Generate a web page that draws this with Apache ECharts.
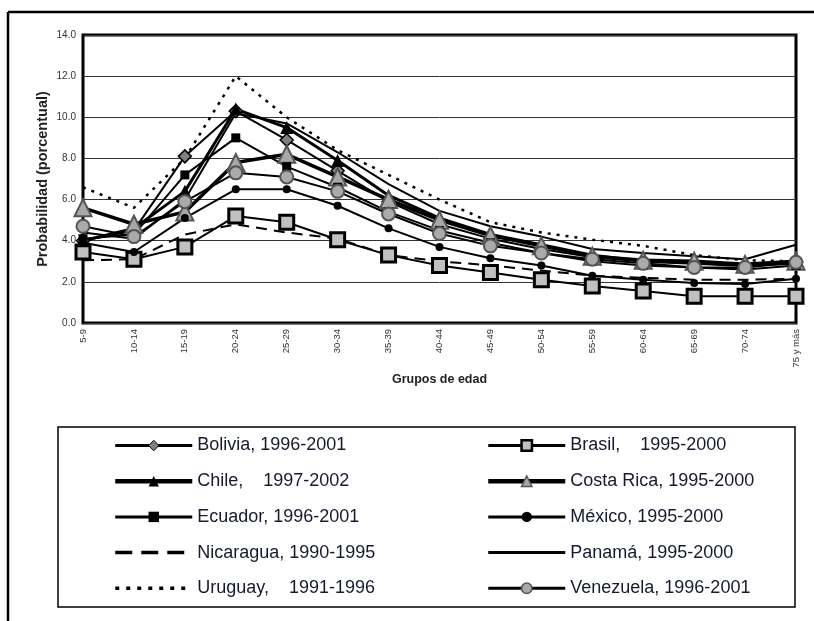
<!DOCTYPE html>
<html>
<head>
<meta charset="utf-8">
<script src="https://cdn.jsdelivr.net/npm/echarts@6/dist/echarts.min.js"></script>
<style>html,body{margin:0;padding:0;background:#fff;}#c{width:814px;height:621px;}</style>
</head>
<body>
<div id="c"></div>
<script>
var categories = ['5-9','10-14','15-19','20-24','25-29','30-34','35-39','40-44','45-49','50-54','55-59','60-64','65-69','70-74','75 y más'];
var yTicks = [0, 2, 4, 6, 8, 10, 12, 14];
var bolivia    = [4.0, 4.5, 8.1, 10.3, 8.9, 7.4, 5.9, 4.8, 4.1, 3.6, 3.2, 3.0, 2.9, 2.8, 3.0];
var brasil     = [3.45, 3.1, 3.7, 5.2, 4.9, 4.05, 3.3, 2.8, 2.45, 2.1, 1.8, 1.55, 1.3, 1.3, 1.3];
var chile      = [4.0, 4.6, 6.4, 10.4, 9.5, 7.9, 6.2, 5.1, 4.3, 3.8, 3.3, 3.0, 2.9, 2.8, 2.9];
var costaRica  = [5.6, 4.8, 5.4, 7.8, 8.2, 7.1, 6.0, 5.0, 4.25, 3.75, 3.25, 3.05, 3.0, 2.85, 3.0];
var ecuador    = [4.1, 4.3, 7.2, 9.0, 7.6, 6.6, 5.4, 4.5, 3.9, 3.4, 3.0, 2.8, 2.7, 2.6, 2.8];
var mexico     = [3.9, 3.45, 5.1, 6.5, 6.5, 5.7, 4.6, 3.7, 3.15, 2.8, 2.3, 2.1, 1.95, 1.9, 2.15];
var nicaragua  = [3.05, 3.1, 4.3, 4.8, 4.4, 4.1, 3.3, 3.0, 2.8, 2.55, 2.3, 2.2, 2.1, 2.1, 2.15];
var panama     = [4.4, 4.1, 6.0, 10.2, 9.7, 8.3, 6.75, 5.45, 4.7, 4.2, 3.6, 3.4, 3.25, 3.1, 3.8];
var uruguay    = [6.6, 5.6, 8.0, 12.0, 10.0, 8.4, 7.2, 6.0, 4.9, 4.4, 4.05, 3.75, 3.3, 3.05, 3.0];
var venezuela  = [4.7, 4.2, 5.9, 7.3, 7.1, 6.4, 5.3, 4.35, 3.75, 3.4, 3.1, 2.9, 2.7, 2.7, 2.95];
var names = ['Bolivia, 1996-2001','Brasil,    1995-2000','Chile,    1997-2002','Costa Rica, 1995-2000','Ecuador, 1996-2001','México, 1995-2000','Nicaragua, 1990-1995','Panamá, 1995-2000','Uruguay,    1991-1996','Venezuela, 1996-2001'];

var FONT = 'Liberation Sans, Arial, sans-serif';
var chart = echarts.init(document.getElementById('c'), null, {renderer: 'canvas'});
function ser(name, data, sym, size, item, line) {
  var noMark = sym === 'none';
  return {
    name: name, type: 'line', data: data,
    symbol: noMark ? 'circle' : sym, symbolSize: noMark ? 0 : size, showSymbol: !noMark,
    itemStyle: noMark ? {color: 'rgba(0,0,0,0)', borderWidth: 0} : item,
    lineStyle: line,
    emphasis: {disabled: true},
    animation: false
  };
}
var series = [
  ser(names[0], bolivia, 'diamond', 13, {color: '#808080', borderColor: '#000', borderWidth: 1.5}, {color: '#000', width: 2}),
  ser(names[1], brasil, 'rect', 14, {color: '#c0c0c0', borderColor: '#000', borderWidth: 3}, {color: '#000', width: 2}),
  ser(names[2], chile, 'triangle', 13, {color: '#000'}, {color: '#000', width: 3}),
  ser(names[3], costaRica, 'triangle', 17, {color: '#a8a8a8', borderColor: '#555', borderWidth: 2}, {color: '#000', width: 3.5}),
  ser(names[4], ecuador, 'rect', 9, {color: '#000'}, {color: '#000', width: 2}),
  ser(names[5], mexico, 'circle', 8, {color: '#000'}, {color: '#000', width: 2}),
  ser(names[6], nicaragua, 'none', 0, null, {color: '#000', width: 2, type: [11, 7]}),
  ser(names[7], panama, 'none', 0, null, {color: '#000', width: 2}),
  ser(names[8], uruguay, 'none', 0, null, {color: '#000', width: 2.5, type: [3, 6]}),
  ser(names[9], venezuela, 'circle', 13, {color: '#aaaaaa', borderColor: '#555', borderWidth: 2}, {color: '#000', width: 2})
];
var legendItemStyles = [
  {itemStyle: {color: '#808080', borderColor: '#000', borderWidth: 1}, lineStyle: {width: 3}},
  {itemStyle: {color: '#c0c0c0', borderColor: '#000', borderWidth: 2.5}, lineStyle: {width: 3}},
  {itemStyle: {color: '#000', borderWidth: 0}, lineStyle: {width: 4.5}},
  {itemStyle: {color: '#a8a8a8', borderColor: '#555', borderWidth: 1.5}, lineStyle: {width: 4.5}},
  {itemStyle: {color: '#000', borderWidth: 0}, lineStyle: {width: 3}},
  {itemStyle: {color: '#000', borderWidth: 0}, lineStyle: {width: 3}},
  {itemStyle: {color: 'rgba(0,0,0,0)', borderWidth: 0}, lineStyle: {width: 3.5, type: [17, 9]}},
  {itemStyle: {color: 'rgba(0,0,0,0)', borderWidth: 0}, lineStyle: {width: 3}},
  {itemStyle: {color: 'rgba(0,0,0,0)', borderWidth: 0}, lineStyle: {width: 3.5, type: [4, 7]}},
  {itemStyle: {color: '#aaaaaa', borderColor: '#555', borderWidth: 1.5}, lineStyle: {width: 3}}
];
function legendData(idx) {
  return idx.map(function (i) {
    return Object.assign({name: names[i]}, legendItemStyles[i]);
  });
}
var legendBase = {
  orient: 'vertical', selectedMode: false, itemWidth: 77, itemHeight: 13, itemGap: 17.7,
  top: 436.5, height: 180, padding: 0,
  textStyle: {fontFamily: FONT, fontSize: 18, color: '#161a2e'}
};
var option = {
  backgroundColor: '#fff',
  animation: false,
  grid: {left: 83, right: 18, top: 35, bottom: 298, show: true, borderColor: '#000', borderWidth: 3, backgroundColor: 'transparent'},
  xAxis: {
    type: 'category', data: categories, boundaryGap: false,
    name: 'Grupos de edad', nameLocation: 'middle', nameGap: 50,
    nameTextStyle: {fontFamily: FONT, fontSize: 12.5, fontWeight: 'bold', color: '#222'},
    axisLine: {show: false}, axisTick: {show: false},
    axisLabel: {rotate: 90, fontSize: 9.5, color: '#333', margin: 6, fontFamily: FONT},
    splitLine: {show: false}
  },
  yAxis: {
    type: 'value', min: yTicks[0], max: yTicks[yTicks.length - 1], interval: 2,
    name: 'Probabilidad (porcentual)', nameLocation: 'middle', nameGap: 33, nameMoveOverlap: false,
    nameTextStyle: {fontFamily: FONT, fontSize: 14.5, fontWeight: 'bold', color: '#222'},
    axisLine: {show: false}, axisTick: {show: false},
    axisLabel: {fontSize: 10, color: '#333', margin: 7, fontFamily: FONT, formatter: function (v) { return v.toFixed(1); }},
    splitLine: {show: true, lineStyle: {color: '#333', width: 1}}
  },
  legend: [
    Object.assign({}, legendBase, {left: 113, data: legendData([0, 2, 4, 6, 8])}),
    Object.assign({}, legendBase, {left: 486, data: legendData([1, 3, 5, 7, 9])})
  ],
  graphic: [
    {type: 'line', shape: {x1: 8, y1: 12, x2: 814, y2: 12}, style: {stroke: '#000', lineWidth: 2.5}, silent: true},
    {type: 'line', shape: {x1: 8, y1: 12, x2: 8, y2: 621}, style: {stroke: '#000', lineWidth: 2.5}, silent: true},
    {type: 'rect', shape: {x: 58, y: 427, width: 737, height: 180}, style: {fill: 'none', stroke: '#000', lineWidth: 1.5}, silent: true}
  ],
  series: series
};
chart.setOption(option);
</script>
</body>
</html>
